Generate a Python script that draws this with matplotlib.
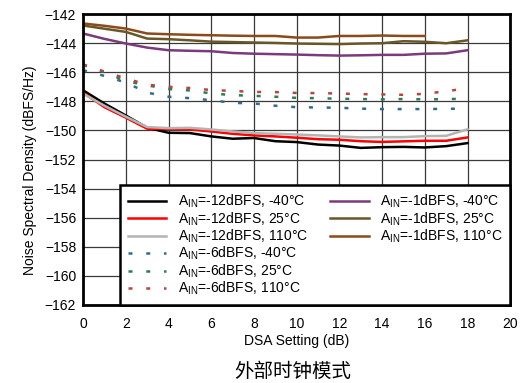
import matplotlib
matplotlib.use('Agg')
import matplotlib.pyplot as plt
from matplotlib.lines import Line2D

plt.rcParams['font.family'] = ['Liberation Sans', 'DejaVu Sans']

# DSA setting (dB)
dsa = [0, 1, 2, 3, 4, 5, 6, 7, 8, 9, 10, 11, 12, 13, 14, 15, 16, 17, 18]
dsa_short = dsa[:17]

# AIN = -12 dBFS
nsd_m12_n40 = [-147.24, -148.15, -148.97, -149.81, -150.16, -150.18, -150.41, -150.57, -150.52, -150.74,
               -150.80, -150.97, -151.04, -151.20, -151.15, -151.13, -151.17, -151.08, -150.87]
nsd_m12_25 = [-147.40, -148.40, -149.12, -149.88, -149.90, -149.93, -150.07, -150.23, -150.34, -150.41,
              -150.50, -150.60, -150.64, -150.74, -150.79, -150.75, -150.71, -150.71, -150.48]
nsd_m12_110 = [-147.47, -148.30, -149.05, -149.77, -149.84, -149.82, -149.93, -150.07, -150.18, -150.23,
               -150.28, -150.34, -150.41, -150.48, -150.46, -150.46, -150.39, -150.37, -149.92]
# AIN = -6 dBFS
nsd_m6_n40 = [-145.85, -146.25, -146.70, -147.40, -147.68, -147.78, -147.92, -148.10, -148.14, -148.30,
              -148.40, -148.42, -148.44, -148.50, -148.53, -148.53, -148.53, -148.51, -148.50]
nsd_m6_25 = [-145.50, -146.00, -146.60, -146.90, -147.15, -147.25, -147.45, -147.57, -147.62, -147.68,
             -147.76, -147.78, -147.82, -147.84, -147.86, -147.84, -147.86, -147.85, -147.80]
nsd_m6_110 = [-145.45, -145.95, -146.42, -146.85, -147.00, -147.08, -147.22, -147.28, -147.35, -147.36,
              -147.42, -147.43, -147.46, -147.50, -147.52, -147.55, -147.48, -147.30, -147.10]
# AIN = -1 dBFS
nsd_m1_n40 = [-143.33, -143.70, -144.02, -144.30, -144.48, -144.52, -144.55, -144.67, -144.72, -144.75,
              -144.78, -144.82, -144.85, -144.83, -144.80, -144.80, -144.72, -144.70, -144.48]
nsd_m1_25 = [-142.78, -143.00, -143.22, -143.68, -143.72, -143.80, -143.89, -143.92, -143.95, -143.98,
             -144.02, -144.04, -144.06, -144.02, -144.00, -143.86, -143.90, -144.00, -143.80]
nsd_m1_110 = [-142.64, -142.80, -142.99, -143.33, -143.38, -143.42, -143.45, -143.48, -143.50, -143.50,
              -143.61, -143.61, -143.50, -143.50, -143.47, -143.50, -143.50]

ain = r'A$_{\mathregular{IN}}$'

fig = plt.figure(figsize=(5.26, 3.83), dpi=100)
ax = fig.add_axes([0.158, 0.204, 0.812, 0.759])

lw = 1.8
dash = (0, (1.6, 5.5))
h1, = ax.plot(dsa, nsd_m12_n40, color='black', lw=lw)
h2, = ax.plot(dsa, nsd_m12_25, color='#ff0000', lw=lw)
h3, = ax.plot(dsa, nsd_m12_110, color='#b4b4b4', lw=lw)
h4, = ax.plot(dsa, nsd_m6_n40, color='#35698a', lw=lw, linestyle=dash)
h5, = ax.plot(dsa, nsd_m6_25, color='#2e7b58', lw=lw, linestyle=dash)
h6, = ax.plot(dsa, nsd_m6_110, color='#b04848', lw=lw, linestyle=dash)
h7, = ax.plot(dsa, nsd_m1_n40, color='#7a3a7c', lw=lw)
h8, = ax.plot(dsa, nsd_m1_25, color='#6b5628', lw=lw)
h9, = ax.plot(dsa_short, nsd_m1_110, color='#8b4a1c', lw=lw)

ax.set_xlim(0, 20)
ax.set_ylim(-162, -142)
ax.set_xticks(range(0, 21, 2))
ax.set_yticks(range(-162, -141, 2))
ax.grid(True, color='#3a3a3a', lw=0.9)
ax.tick_params(length=0, labelsize=10)
ax.tick_params(axis='x', pad=9)
ax.tick_params(axis='y', pad=5)
for s in ax.spines.values():
    s.set_linewidth(2)
ax.set_xlabel('DSA Setting (dB)', fontsize=10, labelpad=2)
ax.set_ylabel('Noise Spectral Density (dBFS/Hz)', fontsize=10)
ax.yaxis.set_label_coords(-0.108, 0.464)

blank = Line2D([], [], color='none')
handles = [h1, h2, h3, h4, h5, h6, h7, h8, h9, blank, blank, blank]
labels = [ain + '=-12dBFS, -40°C', ain + '=-12dBFS, 25°C', ain + '=-12dBFS, 110°C',
          ain + '=-6dBFS, -40°C', ain + '=-6dBFS, 25°C', ain + '=-6dBFS, 110°C',
          ain + '=-1dBFS, -40°C', ain + '=-1dBFS, 25°C', ain + '=-1dBFS, 110°C', '', '', '']
leg = ax.legend(handles, labels, ncol=2, loc='lower right', fontsize=10, borderaxespad=0,
                fancybox=False, framealpha=1, edgecolor='black', handlelength=2.8,
                labelspacing=0.0, columnspacing=1.6, handletextpad=0.8, borderpad=0.55)
leg.get_frame().set_linewidth(1.8)

fig.text(0.556, 0.031, '外部时钟模式', ha='center', va='center', fontsize=14,
         family=['Noto Sans CJK SC', 'DejaVu Sans'])

fig.savefig('out.png', dpi=100)
